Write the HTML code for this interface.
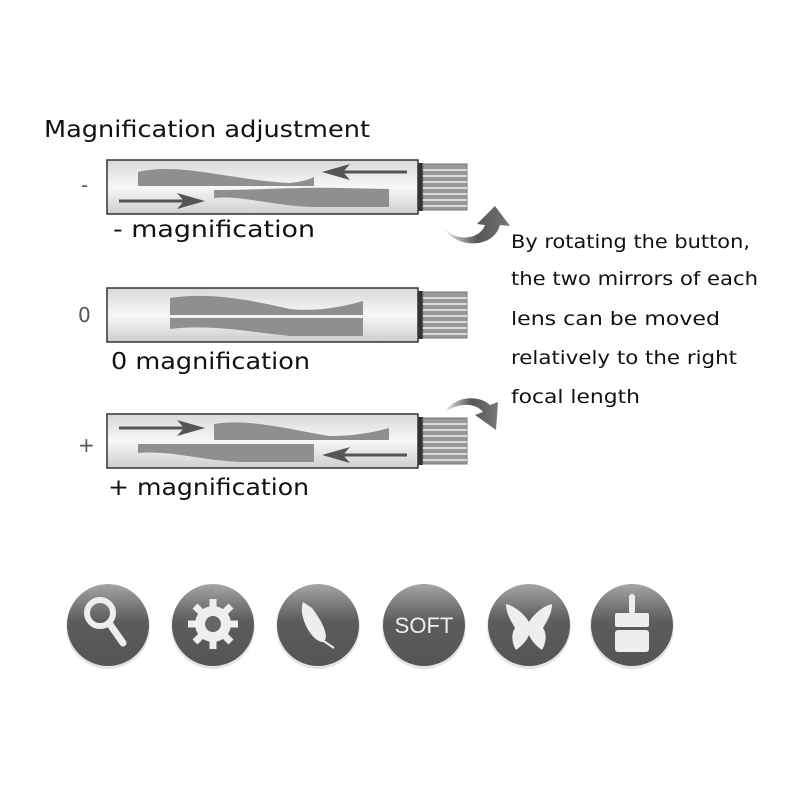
<!DOCTYPE html>
<html><head><meta charset="utf-8"><style>
body{margin:0;background:#fff}
svg{display:block}
text{font-family:"DejaVu Sans","Liberation Sans",sans-serif;fill:#111}
</style></head><body>
<svg width="800" height="800" viewBox="0 0 800 800" xmlns="http://www.w3.org/2000/svg">
<defs>
<linearGradient id="tube" x1="0" y1="0" x2="0" y2="1">
<stop offset="0" stop-color="#d8d8d8"/><stop offset="0.5" stop-color="#f7f7f7"/><stop offset="1" stop-color="#cfcfcf"/>
</linearGradient>
<linearGradient id="btn" x1="0" y1="0" x2="0" y2="1">
<stop offset="0" stop-color="#a5a5a5"/><stop offset="0.45" stop-color="#5c5c5c"/><stop offset="1" stop-color="#555"/>
</linearGradient>
<linearGradient id="arr" x1="0" y1="0" x2="1" y2="0">
<stop offset="0" stop-color="#eee"/><stop offset="0.5" stop-color="#555"/><stop offset="1" stop-color="#777"/>
</linearGradient>
<g id="knob">
<rect x="418" y="0" width="5" height="48" fill="#333"/>
<rect x="423" y="1" width="44" height="46" fill="#999" stroke="#777"/>
<g stroke="#eee" stroke-width="1.5">
<line x1="423" y1="7" x2="467" y2="7"/><line x1="423" y1="13" x2="467" y2="13"/><line x1="423" y1="19" x2="467" y2="19"/><line x1="423" y1="25" x2="467" y2="25"/><line x1="423" y1="31" x2="467" y2="31"/><line x1="423" y1="37" x2="467" y2="37"/><line x1="423" y1="43" x2="467" y2="43"/>
</g>
</g>
</defs>

<text x="44" y="137" font-size="23" textLength="326" lengthAdjust="spacingAndGlyphs">Magnification adjustment</text>

<!-- tube 1 -->
<rect x="107" y="160" width="311" height="54" fill="url(#tube)" stroke="#333" stroke-width="1.5"/>
<use href="#knob" y="163"/>
<path d="M138 172 C180 162 230 180 290 183 C300 182 308 180 314 177 L314 186 L138 186 Z" fill="#8f8f8f"/>
<path d="M214 190 C260 190 300 187 340 188 L389 189 L389 207 L310 207 C270 205 240 195 214 198 Z" fill="#8f8f8f"/>
<line x1="407" y1="172" x2="335" y2="172" stroke="#555" stroke-width="3"/>
<path d="M322 172 L350 164 L343 172 L350 180 Z" fill="#555"/>
<line x1="119" y1="201" x2="192" y2="201" stroke="#555" stroke-width="3"/>
<path d="M205 201 L177 193 L184 201 L177 209 Z" fill="#555"/>
<text x="81" y="192" font-size="20" style="fill:#555">-</text>
<text x="113" y="237" font-size="23" textLength="202" lengthAdjust="spacingAndGlyphs">- magnification</text>

<!-- tube 2 -->
<rect x="107" y="288" width="311" height="54" fill="url(#tube)" stroke="#333" stroke-width="1.5"/>
<use href="#knob" y="291"/>
<path d="M170 298 C210 292 250 300 290 309 C320 312 345 306 363 301 L363 315 L170 315 Z" fill="#8f8f8f"/>
<path d="M170 318 L363 318 L363 336 L290 336 C250 332 210 324 170 329 Z" fill="#8f8f8f"/>
<text x="78" y="322" font-size="20" style="fill:#555">0</text>
<text x="111" y="369" font-size="23" textLength="199" lengthAdjust="spacingAndGlyphs">0 magnification</text>

<!-- tube 3 -->
<rect x="107" y="414" width="311" height="54" fill="url(#tube)" stroke="#333" stroke-width="1.5"/>
<use href="#knob" y="417"/>
<path d="M214 424 C250 418 290 430 330 436 C355 436 375 432 389 428 L389 440 L214 440 Z" fill="#8f8f8f"/>
<path d="M138 444 L314 444 L314 462 L240 462 C200 460 170 450 138 453 Z" fill="#8f8f8f"/>
<line x1="119" y1="428" x2="192" y2="428" stroke="#555" stroke-width="3"/>
<path d="M205 428 L177 420 L184 428 L177 436 Z" fill="#555"/>
<line x1="407" y1="455" x2="335" y2="455" stroke="#555" stroke-width="3"/>
<path d="M322 455 L350 447 L343 455 L350 463 Z" fill="#555"/>
<text x="78" y="452" font-size="20" style="fill:#555">+</text>
<text x="108" y="495" font-size="23" textLength="201" lengthAdjust="spacingAndGlyphs">+ magnification</text>

<!-- curved arrows -->
<path d="M444 228 C455 242 480 240 485 225 L477 224 L495 206 L510 226 L500 225 C493 250 455 248 444 228 Z" fill="url(#arr)"/>
<path d="M445 412 C455 395 480 395 490 405 L498 402 L496 430 L475 415 L483 412 C475 402 458 403 445 412 Z" fill="url(#arr)"/>

<g font-size="19" style="fill:#222">
<text x="511" y="248" textLength="239" lengthAdjust="spacingAndGlyphs">By rotating the button,</text>
<text x="511" y="285" textLength="247" lengthAdjust="spacingAndGlyphs">the two mirrors of each</text>
<text x="511" y="325" textLength="209" lengthAdjust="spacingAndGlyphs">lens can be moved</text>
<text x="511" y="364" textLength="226" lengthAdjust="spacingAndGlyphs">relatively  to the right</text>
<text x="511" y="403" textLength="129" lengthAdjust="spacingAndGlyphs">focal length</text>
</g>

<!-- icons -->
<g>
<ellipse cx="108" cy="627" rx="42" ry="42" fill="#ccc" opacity="0.5"/>
<ellipse cx="108" cy="625" rx="41" ry="41" fill="url(#btn)"/>
<circle cx="100" cy="613" r="13" fill="none" stroke="#eee" stroke-width="6"/>
<line x1="109" y1="623" x2="123" y2="643" stroke="#eee" stroke-width="7" stroke-linecap="round"/>

<ellipse cx="213" cy="627" rx="42" ry="42" fill="#ccc" opacity="0.5"/>
<ellipse cx="213" cy="625" rx="41" ry="41" fill="url(#btn)"/>
<g fill="#eee"><circle cx="213" cy="624" r="18"/>
<g stroke="#eee" stroke-width="7"><line x1="213" y1="599" x2="213" y2="649"/><line x1="188" y1="624" x2="238" y2="624"/><line x1="195" y1="606" x2="231" y2="642"/><line x1="231" y1="606" x2="195" y2="642"/></g></g>
<circle cx="213" cy="624" r="8" fill="#666"/>

<ellipse cx="318" cy="627" rx="42" ry="42" fill="#ccc" opacity="0.5"/>
<ellipse cx="318" cy="625" rx="41" ry="41" fill="url(#btn)"/>
<path d="M303 602 C298 615 310 640 322 642 C330 640 325 625 312 608 Z" fill="#eee"/>
<line x1="322" y1="640" x2="334" y2="648" stroke="#eee" stroke-width="2"/>

<ellipse cx="424" cy="627" rx="42" ry="42" fill="#ccc" opacity="0.5"/>
<ellipse cx="424" cy="625" rx="41" ry="41" fill="url(#btn)"/>
<text x="424" y="633" font-size="22" text-anchor="middle" style="fill:#eee;font-family:'Liberation Sans',sans-serif">SOFT</text>

<ellipse cx="529" cy="627" rx="42" ry="42" fill="#ccc" opacity="0.5"/>
<ellipse cx="529" cy="625" rx="41" ry="41" fill="url(#btn)"/>
<path d="M506 604 C515 606 525 615 529 622 C533 615 543 606 552 604 C552 615 545 624 543 628 C548 635 545 645 542 650 C535 645 531 640 529 635 C527 640 523 645 516 650 C513 645 510 635 515 628 C513 624 506 615 506 604 Z" fill="#eee"/>

<ellipse cx="632" cy="627" rx="42" ry="42" fill="#ccc" opacity="0.5"/>
<ellipse cx="632" cy="625" rx="41" ry="41" fill="url(#btn)"/>
<rect x="629" y="594" width="6" height="20" rx="3" fill="#eee"/>
<rect x="615" y="613" width="34" height="14" rx="2" fill="#eee"/>
<rect x="615" y="630" width="34" height="22" rx="3" fill="#eee"/>
</g>
</svg>
</body></html>
